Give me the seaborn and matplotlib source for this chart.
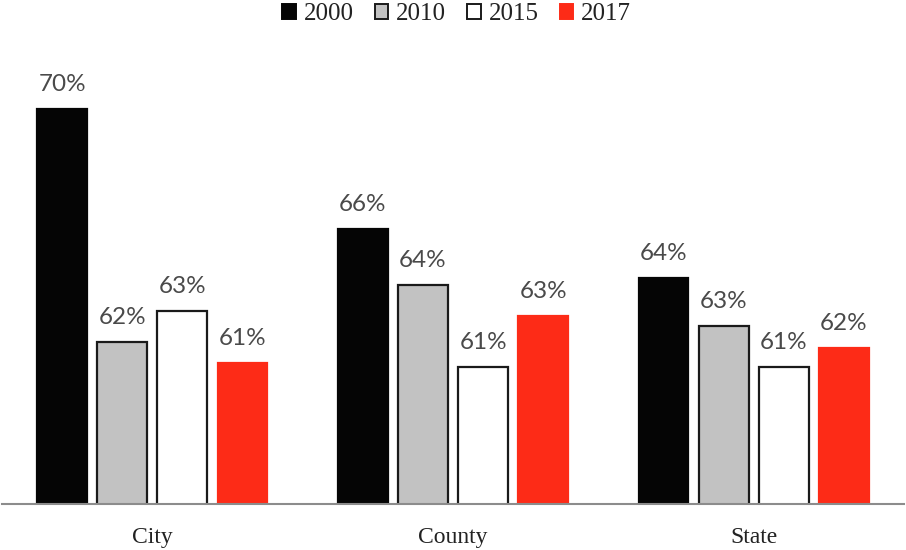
import pandas as pd
import numpy as np
import matplotlib
matplotlib.use('Agg')
import matplotlib.pyplot as plt
from matplotlib.patches import Patch
import seaborn as sns

# data (axis does not start at zero)
places = ['City', 'County', 'State']
years = ['2000', '2010', '2015', '2017']
v2000 = [70.1, 65.97, 64.28]
v2010 = [62.07, 64.03, 62.62]
v2015 = [63.14, 61.21, 61.21]
v2017 = [61.34, 62.97, 61.86]

colors = {'2000': '#050505', '2010': '#c2c2c2', '2015': '#ffffff', '2017': '#fd2b17'}
edges = {'2000': '#050505', '2010': '#1a1a1a', '2015': '#1a1a1a', '2017': '#fd2b17'}

df = pd.DataFrame({'place': places * 4,
                   'year': [y for y in years for _ in places],
                   'value': v2000 + v2010 + v2015 + v2017})

sns.set_style('white')
plt.rcParams['font.family'] = ['Liberation Serif', 'DejaVu Serif']

fig = plt.figure(figsize=(9.06, 5.5), dpi=100)
ax = fig.add_axes([2 / 906, 46.5 / 550, 902 / 906, 443.5 / 550])

sns.barplot(data=df, x='place', y='value', hue='year', hue_order=years,
            palette=colors, width=0.8, gap=0.17, ax=ax, legend=False,
            saturation=1)

for cont, yr in zip(ax.containers, years):
    for bar in cont:
        bar.set_edgecolor(edges[yr])
        bar.set_linewidth(1.6)
    labels = [f'{v:.0f}%' for v in cont.datavalues]
    ax.bar_label(cont, labels=labels, padding=10, fontsize=17.5,
                 color='#4a4a4a', family=['Lato', 'DejaVu Sans'])

ax.set_ylim(56.5, 71.8)
ax.set_xlim(-0.5, 2.5)
ax.set_yticks([])
ax.set_xlabel('')
ax.set_ylabel('')
sns.despine(ax=ax, left=True)
ax.spines['bottom'].set_color('#8c8c8c')
ax.spines['bottom'].set_linewidth(1.5)
ax.tick_params(axis='x', length=0, pad=17, labelsize=17, labelcolor='#222222')

handles = [Patch(facecolor=colors[y], edgecolor=edges[y], linewidth=1.4) for y in years]
fig.legend(handles, years, loc='center', bbox_to_anchor=(0.504, 1 - 14 / 550), ncol=4,
           frameon=False, fontsize=18, handlelength=0.55, handleheight=0.55,
           handletextpad=0.3, columnspacing=0.85, labelcolor='#222222',
           borderpad=0.1)

fig.savefig('out.png', dpi=100, facecolor='white')
